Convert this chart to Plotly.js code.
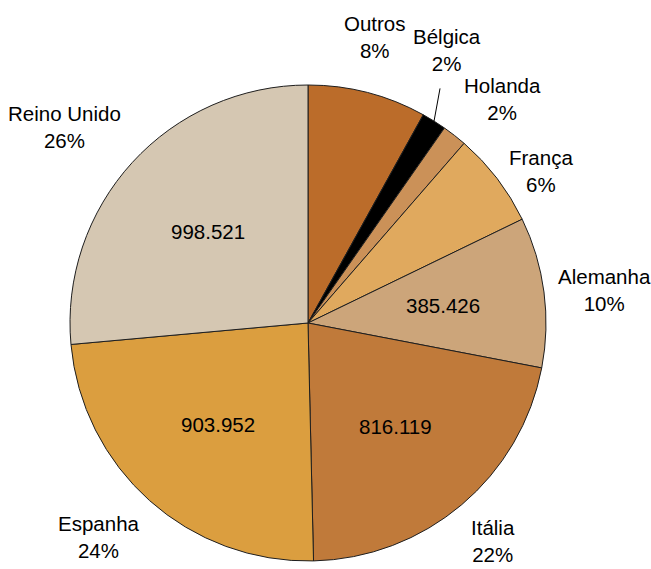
<!DOCTYPE html>
<html><head><meta charset="utf-8">
<script src="https://cdn.plot.ly/plotly-3.0.1.min.js"></script>
<style>html,body{margin:0;padding:0;background:#fff}</style>
</head><body>
<div id="chart" style="width:651px;height:569px"></div>
<script>
// ---- data ----
const countries = ["Outros", "Bélgica", "Holanda", "França", "Alemanha", "Itália", "Espanha", "Reino Unido"];
const values    = [304000, 63000, 63000, 243000, 385426, 816119, 903952, 998521];
const showValue = [false, false, false, false, true, true, true, true];

// ---- style ----
const colors = ["rgb(187,108,42)", "rgb(0,0,0)", "rgb(203,145,88)", "rgb(224,169,94)",
                "rgb(204,165,122)", "rgb(192,122,58)", "rgb(219,158,63)", "rgb(213,199,178)"];
const W = 651, H = 569, CX = 308, CY = 323, R = 238;
const labelGap = [30, 0, 12, 12, 12, 12, 12, 12];   // extra distance of outside labels
const arrowLabel = {"Bélgica": {ax: 13, ay: -71}};
const FONT = {family: "Liberation Sans, Arial, sans-serif", size: 20.5, color: "#000"};

const total = values.reduce((a, b) => a + b, 0);
const fmt = v => String(v).replace(/\B(?=(\d{3})+(?!\d))/g, ".");
const toPaper = (px, py) => [px / W, 1 - py / H];

const annotations = [];
let cum = 0;
values.forEach((v, i) => {
  const a0 = cum / total * 2 * Math.PI;
  cum += v;
  const a1 = cum / total * 2 * Math.PI;
  const mid = (a0 + a1) / 2;
  const s = Math.sin(mid), c = Math.cos(mid);
  const pct = Math.round(v / total * 100) + "%";
  const txt = countries[i] + "<br>" + pct;
  if (arrowLabel[countries[i]]) {
    const [x, y] = toPaper(CX + R * s, CY - R * c);
    annotations.push({x, y, xref: "paper", yref: "paper", text: txt, showarrow: true,
      arrowhead: 0, arrowwidth: 1, arrowcolor: "#000", startstandoff: 12, standoff: 0,
      ax: arrowLabel[countries[i]].ax, ay: arrowLabel[countries[i]].ay, font: FONT});
  } else {
    const rl = R + labelGap[i];
    const [x, y] = toPaper(CX + rl * s, CY - rl * c);
    annotations.push({x, y, xref: "paper", yref: "paper", text: txt, showarrow: false,
      xanchor: s > 0.3 ? "left" : (s < -0.3 ? "right" : "center"),
      yanchor: c > 0.65 ? "bottom" : (c < -0.65 ? "top" : "middle"),
      font: FONT});
  }
  if (showValue[i]) {
    const rv = 0.57 * R;
    const [x, y] = toPaper(CX + rv * s, CY - rv * c);
    annotations.push({x, y, xref: "paper", yref: "paper", text: fmt(v), showarrow: false,
      xanchor: "center", yanchor: "middle", font: FONT});
  }
});

const trace = {
  type: "pie",
  labels: countries,
  values: values,
  sort: false,
  direction: "clockwise",
  rotation: 0,
  textinfo: "none",
  hoverinfo: "none",
  marker: {colors: colors, line: {color: "rgb(30,30,30)", width: 1}},
  domain: {x: [(CX - R) / W, (CX + R) / W], y: [1 - (CY + R) / H, 1 - (CY - R) / H]}
};

Plotly.newPlot("chart", [trace], {
  width: W, height: H,
  margin: {l: 0, r: 0, t: 0, b: 0},
  showlegend: false,
  paper_bgcolor: "#fff",
  font: FONT,
  annotations: annotations
}, {staticPlot: true});
</script>
</body></html>
